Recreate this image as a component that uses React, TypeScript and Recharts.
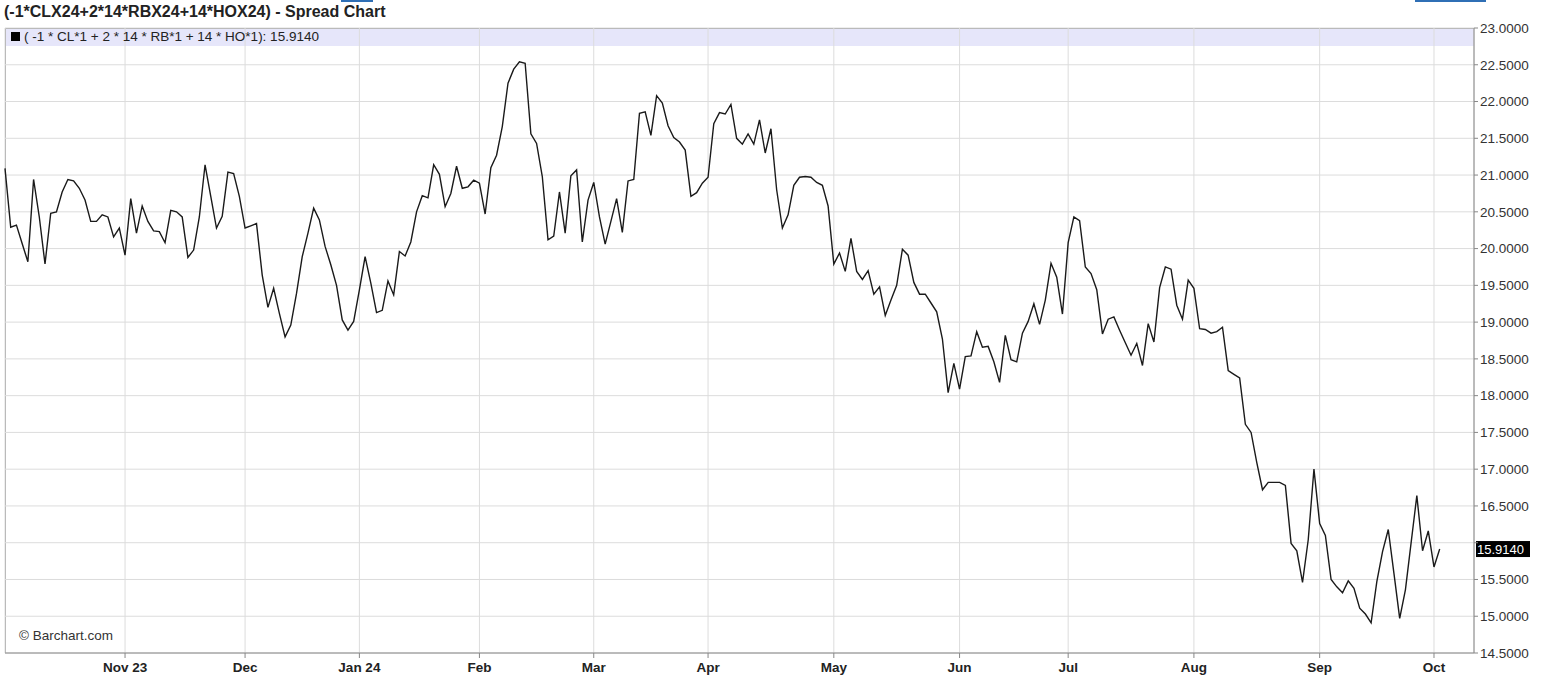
import { LineChart, Line, XAxis, YAxis, CartesianGrid, ReferenceLine } from "recharts";

// daily closes of the spread, Oct 3 2023 .. Oct 2 2024 (one per trading day)
const spread = [
    21.09, 20.29, 20.32, 20.07, 19.82, 20.94, 20.43, 19.79, 20.48, 20.5,
    20.77, 20.94, 20.92, 20.82, 20.66, 20.37, 20.37, 20.46, 20.43, 20.16,
    20.28, 19.91, 20.68, 20.21, 20.58, 20.37, 20.24, 20.23, 20.08, 20.52,
    20.5, 20.43, 19.88, 19.98, 20.43, 21.14, 20.71, 20.28, 20.44, 21.04,
    21.02, 20.71, 20.28, 20.31, 20.34, 19.64, 19.2, 19.46, 19.12, 18.8,
    18.96, 19.39, 19.89, 20.21, 20.55, 20.39, 20.03, 19.78, 19.5, 19.03,
    18.89, 19.01, 19.44, 19.89, 19.53, 19.13, 19.16, 19.56, 19.37, 19.96,
    19.9, 20.09, 20.5, 20.72, 20.69, 21.14, 21.01, 20.57, 20.75, 21.12,
    20.82, 20.84, 20.93, 20.89, 20.47, 21.1, 21.27, 21.66, 22.25, 22.44,
    22.54, 22.52, 21.56, 21.43, 20.98, 20.12, 20.17, 20.77, 20.21, 20.99,
    21.07, 20.09, 20.66, 20.9, 20.43, 20.06, 20.37, 20.68, 20.22, 20.92,
    20.94, 21.84, 21.86, 21.54, 22.08, 21.98, 21.67, 21.51, 21.45, 21.34,
    20.71, 20.76, 20.89, 20.97, 21.7, 21.85, 21.83, 21.96, 21.5, 21.42,
    21.56, 21.42, 21.75, 21.3, 21.63, 20.8, 20.28, 20.46, 20.86, 20.97,
    20.98, 20.97, 20.9, 20.86, 20.58, 19.79, 19.94, 19.69, 20.14, 19.69,
    19.58, 19.7, 19.38, 19.48, 19.09, 19.3, 19.5, 19.99, 19.91, 19.54,
    19.38, 19.38, 19.26, 19.14, 18.77, 18.04, 18.44, 18.09, 18.53, 18.54,
    18.87, 18.66, 18.67, 18.46, 18.18, 18.82, 18.49, 18.46, 18.85, 19.01,
    19.25, 18.97, 19.3, 19.8, 19.61, 19.11, 20.08, 20.43, 20.38, 19.75,
    19.66, 19.44, 18.84, 19.04, 19.07, 18.89, 18.72, 18.55, 18.71, 18.41,
    18.98, 18.73, 19.47, 19.75, 19.72, 19.23, 19.04, 19.57, 19.46, 18.91,
    18.9, 18.85, 18.87, 18.93, 18.34, 18.29, 18.24, 17.61, 17.5, 17.09,
    16.72, 16.82, 16.82, 16.82, 16.78, 15.99, 15.89, 15.46, 16.04, 17.0,
    16.26, 16.1, 15.5, 15.4, 15.32, 15.48, 15.38, 15.11, 15.03, 14.91,
    15.47, 15.88, 16.18, 15.58, 14.97, 15.36, 16.0, 16.64, 15.89, 16.16,
    15.67, 15.914
];

// index of the first trading day of each month
const monthTicks = [21, 42, 62, 83, 103, 123, 145, 167, 186, 208, 230, 250];
const monthLabels = ["Nov 23", "Dec", "Jan 24", "Feb", "Mar", "Apr", "May", "Jun", "Jul", "Aug", "Sep", "Oct"];

const priceTicks = [14.5, 15, 15.5, 16, 16.5, 17, 17.5, 18, 18.5, 19, 19.5, 20, 20.5, 21, 21.5, 22, 22.5, 23];

const lastValue = spread[spread.length - 1];
const data = spread.map((v, i) => ({ i, v }));

const font = "'Liberation Sans', Arial, sans-serif";

// the last-price box covers the tick label it sits on
const priceLabel = (v: number) => (Math.abs(v - lastValue) < 0.2 ? "" : v.toFixed(4));

const LastLabel = (props: any) => {
    const { viewBox } = props;
    const x = viewBox.x + viewBox.width + 2;
    const y = viewBox.y;
    return (
        <g>
            <rect x={x} y={y - 8} width={54} height={16} fill="#000" />
            <text x={x + 1} y={y + 5} fill="#fff" fontSize={13} fontFamily={font}>
                {lastValue.toFixed(4)}
            </text>
        </g>
    );
};

export default function App() {
    return (
        <div style={{ position: "relative", width: 1545, height: 683, background: "#fff", fontFamily: font }}>
            <style>{`body{margin:0}`}</style>
            <div style={{ position: "absolute", left: 341, top: 0, width: 32, height: 2, background: "#2f6fb5" }} />
            <div style={{ position: "absolute", left: 1415, top: 0, width: 71, height: 2, background: "#2f6fb5" }} />
            <div style={{ position: "absolute", left: 4, top: 3, fontSize: 16, fontWeight: "bold", color: "#222", whiteSpace: "nowrap" }}>
                (-1*CLX24+2*14*RBX24+14*HOX24) - Spread Chart
            </div>
            {/* legend band */}
            <div style={{ position: "absolute", left: 5, top: 28, width: 1469, height: 18, background: "#e6e6fa" }} />
            <div style={{ position: "absolute", left: 5, top: 28, width: 1469, height: 625, borderLeft: "1px solid #999", borderTop: "1px solid #999", boxSizing: "border-box" }} />
            <div style={{ position: "absolute", top: 0, left: 0 }}>
                <LineChart width={1545} height={683} data={data} margin={{ top: 28, right: 0, bottom: 0, left: 5 }}>
                    <CartesianGrid stroke="#dcdcdc" strokeWidth={1} />
                    <XAxis
                        dataKey="i"
                        type="number"
                        domain={[0, 257]}
                        ticks={monthTicks}
                        tickFormatter={(v) => monthLabels[monthTicks.indexOf(v)]}
                        height={30}
                        tickSize={5}
                        tickMargin={4}
                        axisLine={{ stroke: "#888" }}
                        tickLine={{ stroke: "#888" }}
                        tick={{ fontSize: 13.5, fontWeight: "bold", fill: "#222", fontFamily: font }}
                    />
                    <YAxis
                        orientation="right"
                        domain={[14.5, 23]}
                        ticks={priceTicks}
                        tickFormatter={priceLabel}
                        width={71}
                        tickSize={4}
                        tickMargin={2}
                        axisLine={{ stroke: "#888" }}
                        tickLine={{ stroke: "#888" }}
                        tick={{ fontSize: 13.5, fill: "#333", fontFamily: font, textAnchor: "start" }}
                        allowDataOverflow
                    />
                    <ReferenceLine y={lastValue} stroke="none" label={<LastLabel />} ifOverflow="visible" />
                    <Line
                        type="linear"
                        dataKey="v"
                        stroke="#1a1a1a"
                        strokeWidth={1.4}
                        dot={false}
                        isAnimationActive={false}
                    />
                </LineChart>
            </div>
            <div style={{ position: "absolute", left: 11, top: 29, fontSize: 13.5, color: "#222", whiteSpace: "nowrap" }}>
                <span style={{ display: "inline-block", width: 9, height: 9, background: "#000", marginRight: 4 }} />( -1 * CL*1 + 2 * 14 * RB*1 + 14 * HO*1): 15.9140
            </div>
            <div style={{ position: "absolute", left: 19, top: 628, fontSize: 13.5, color: "#333", whiteSpace: "nowrap" }}>
                © Barchart.com
            </div>
        </div>
    );
}
